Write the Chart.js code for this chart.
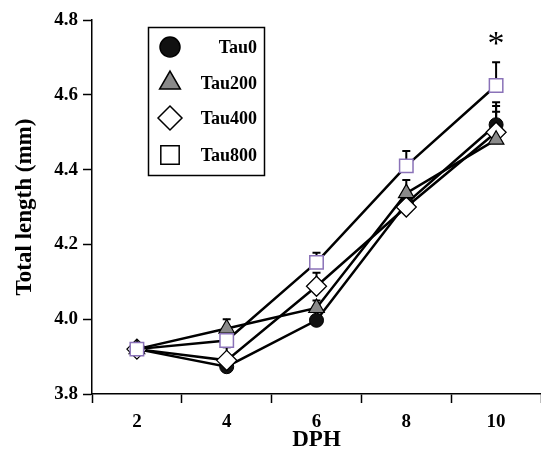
<!DOCTYPE html>
<html lang="en">
<head>
    <meta charset="UTF-8">
    <title>Total length by DPH</title>
    <script src="https://cdn.jsdelivr.net/npm/chart.js"></script>
    <style>
        html, body {
            margin: 0;
            padding: 0;
            background: #fff;
        }
        #lengthChart {
            display: block;
        }
    </style>
</head>
<body>
    <canvas id="lengthChart" width="541" height="458"></canvas>
    <script>
        // days post hatch
        const days = ['2', '4', '6', '8', '10'];

        // mean total length (mm)
        const tau0 = [3.92, 3.873, 3.997, 4.31, 4.52];
        const tau200 = [3.92, 3.975, 4.03, 4.337, 4.48];
        const tau400 = [3.92, 3.89, 4.088, 4.30, 4.50];
        const tau800 = [3.92, 3.943, 4.152, 4.41, 4.625];

        // upper error bars
        const tau0Err = [0.01, 0.01, 0.01, 0.02, 0.06];
        const tau200Err = [0.01, 0.025, 0.02, 0.035, 0.075];
        const tau400Err = [0.01, 0.035, 0.036, 0.02, 0.07];
        const tau800Err = [0.01, 0.015, 0.026, 0.04, 0.062];

        const yTicks = [3.8, 4.0, 4.2, 4.4, 4.6, 4.8];
        const serif = "'Liberation Serif', 'Times New Roman', serif";

        // error bars, drawn under the markers
        const errorBars = {
            id: 'errorBars',
            beforeDatasetsDraw(chart) {
                const ctx = chart.ctx;
                const x = chart.scales.x, y = chart.scales.y;
                ctx.save();
                ctx.strokeStyle = '#000';
                ctx.lineWidth = 2;
                chart.data.datasets.forEach(ds => {
                    ds.data.forEach((v, i) => {
                        const px = x.getPixelForValue(i);
                        const py0 = y.getPixelForValue(v);
                        const py1 = y.getPixelForValue(v + ds.errUp[i]);
                        ctx.beginPath();
                        ctx.moveTo(px, py0);
                        ctx.lineTo(px, py1);
                        ctx.moveTo(px - 4, py1);
                        ctx.lineTo(px + 4, py1);
                        ctx.stroke();
                    });
                });
                ctx.restore();
            }
        };

        // boxed legend with right-aligned labels + significance star
        const extras = {
            id: 'extras',
            afterDraw(chart) {
                const ctx = chart.ctx;
                ctx.save();
                // star over the last Tau800 point
                const x = chart.scales.x, y = chart.scales.y;
                const last = tau800.length - 1;
                ctx.fillStyle = '#000';
                ctx.font = '34px ' + serif;
                ctx.textAlign = 'center';
                ctx.textBaseline = 'alphabetic';
                ctx.fillText('*', x.getPixelForValue(last), y.getPixelForValue(tau800[last] + tau800Err[last]) - 8);

                // legend box
                ctx.lineWidth = 1.5;
                ctx.strokeStyle = '#000';
                ctx.strokeRect(148.5, 27.5, 116, 148);
                const rows = [47, 83, 118, 155];
                const sizes = [10, 12, 12, 13];
                ctx.font = 'bold 18px ' + serif;
                ctx.textAlign = 'right';
                ctx.textBaseline = 'middle';
                chart.data.datasets.forEach((ds, i) => {
                    const opts = {
                        pointStyle: ds.pointStyle,
                        radius: sizes[i],
                        rotation: 0,
                        borderWidth: 1.5
                    };
                    ctx.fillStyle = ds.pointBackgroundColor;
                    ctx.strokeStyle = '#000';
                    ctx.lineWidth = 1.5;
                    Chart.helpers.drawPoint(ctx, opts, 170, rows[i]);
                    ctx.fillStyle = '#000';
                    ctx.fillText(ds.label, 257, rows[i] + 1);
                });
                ctx.restore();
            }
        };

        new Chart(document.getElementById('lengthChart'), {
            type: 'line',
            data: {
                labels: days,
                datasets: [
                    {
                        label: 'Tau0',
                        data: tau0,
                        errUp: tau0Err,
                        order: 3,
                        pointStyle: 'circle',
                        pointRadius: 7,
                        pointBackgroundColor: '#111',
                        pointBorderColor: '#000',
                        pointBorderWidth: 1
                    },
                    {
                        label: 'Tau200',
                        data: tau200,
                        errUp: tau200Err,
                        order: 1,
                        pointStyle: 'triangle',
                        pointRadius: 9,
                        pointBackgroundColor: '#8a8a8a',
                        pointBorderColor: '#000',
                        pointBorderWidth: 1.2
                    },
                    {
                        label: 'Tau400',
                        data: tau400,
                        errUp: tau400Err,
                        order: 2,
                        pointStyle: 'rectRot',
                        pointRadius: 10,
                        pointBackgroundColor: '#fff',
                        pointBorderColor: '#000',
                        pointBorderWidth: 1.3
                    },
                    {
                        label: 'Tau800',
                        data: tau800,
                        errUp: tau800Err,
                        order: 0,
                        pointStyle: 'rect',
                        pointRadius: 9.5,
                        pointBackgroundColor: '#fff',
                        pointBorderColor: '#8a72b8',
                        pointBorderWidth: 1.5
                    }
                ].map(ds => Object.assign({
                    borderColor: '#000',
                    borderWidth: 2.5,
                    tension: 0,
                    fill: false
                }, ds))
            },
            options: {
                responsive: false,
                animation: false,
                layout: {
                    autoPadding: false,
                    padding: { top: 20, right: 0, bottom: 0, left: 0 }
                },
                plugins: {
                    legend: { display: false },
                    tooltip: { enabled: false }
                },
                scales: {
                    x: {
                        type: 'category',
                        offset: true,
                        grid: {
                            offset: true,
                            drawOnChartArea: false,
                            tickLength: 9,
                            tickColor: '#000',
                            tickWidth: 1.5
                        },
                        border: { color: '#000', width: 1.5 },
                        ticks: {
                            color: '#000',
                            padding: 8,
                            font: { family: serif, size: 19, weight: 'bold' }
                        },
                        title: {
                            display: true,
                            text: 'DPH',
                            color: '#000',
                            font: { family: serif, size: 23, weight: 'bold' },
                            padding: { top: 0, bottom: 4 }
                        },
                        afterFit(scale) {
                            scale.height = 64;
                            scale.paddingLeft = 0;
                            scale.paddingRight = 0;
                        }
                    },
                    y: {
                        min: 3.8,
                        max: 4.8,
                        afterBuildTicks(scale) {
                            scale.ticks = yTicks.map(v => ({ value: v }));
                        },
                        grid: {
                            drawOnChartArea: false,
                            tickLength: 9,
                            tickColor: '#000',
                            tickWidth: 1.5
                        },
                        border: { color: '#000', width: 1.5 },
                        ticks: {
                            color: '#000',
                            padding: 5,
                            font: { family: serif, size: 19, weight: 'bold' },
                            callback: v => Number(v).toFixed(1)
                        },
                        title: {
                            display: true,
                            text: 'Total length (mm)',
                            color: '#000',
                            font: { family: serif, size: 23, weight: 'bold' },
                            padding: { top: 11, bottom: 0 }
                        },
                        afterFit(scale) { scale.width = 92; }
                    }
                }
            },
            plugins: [errorBars, extras]
        });
    </script>
</body>
</html>
